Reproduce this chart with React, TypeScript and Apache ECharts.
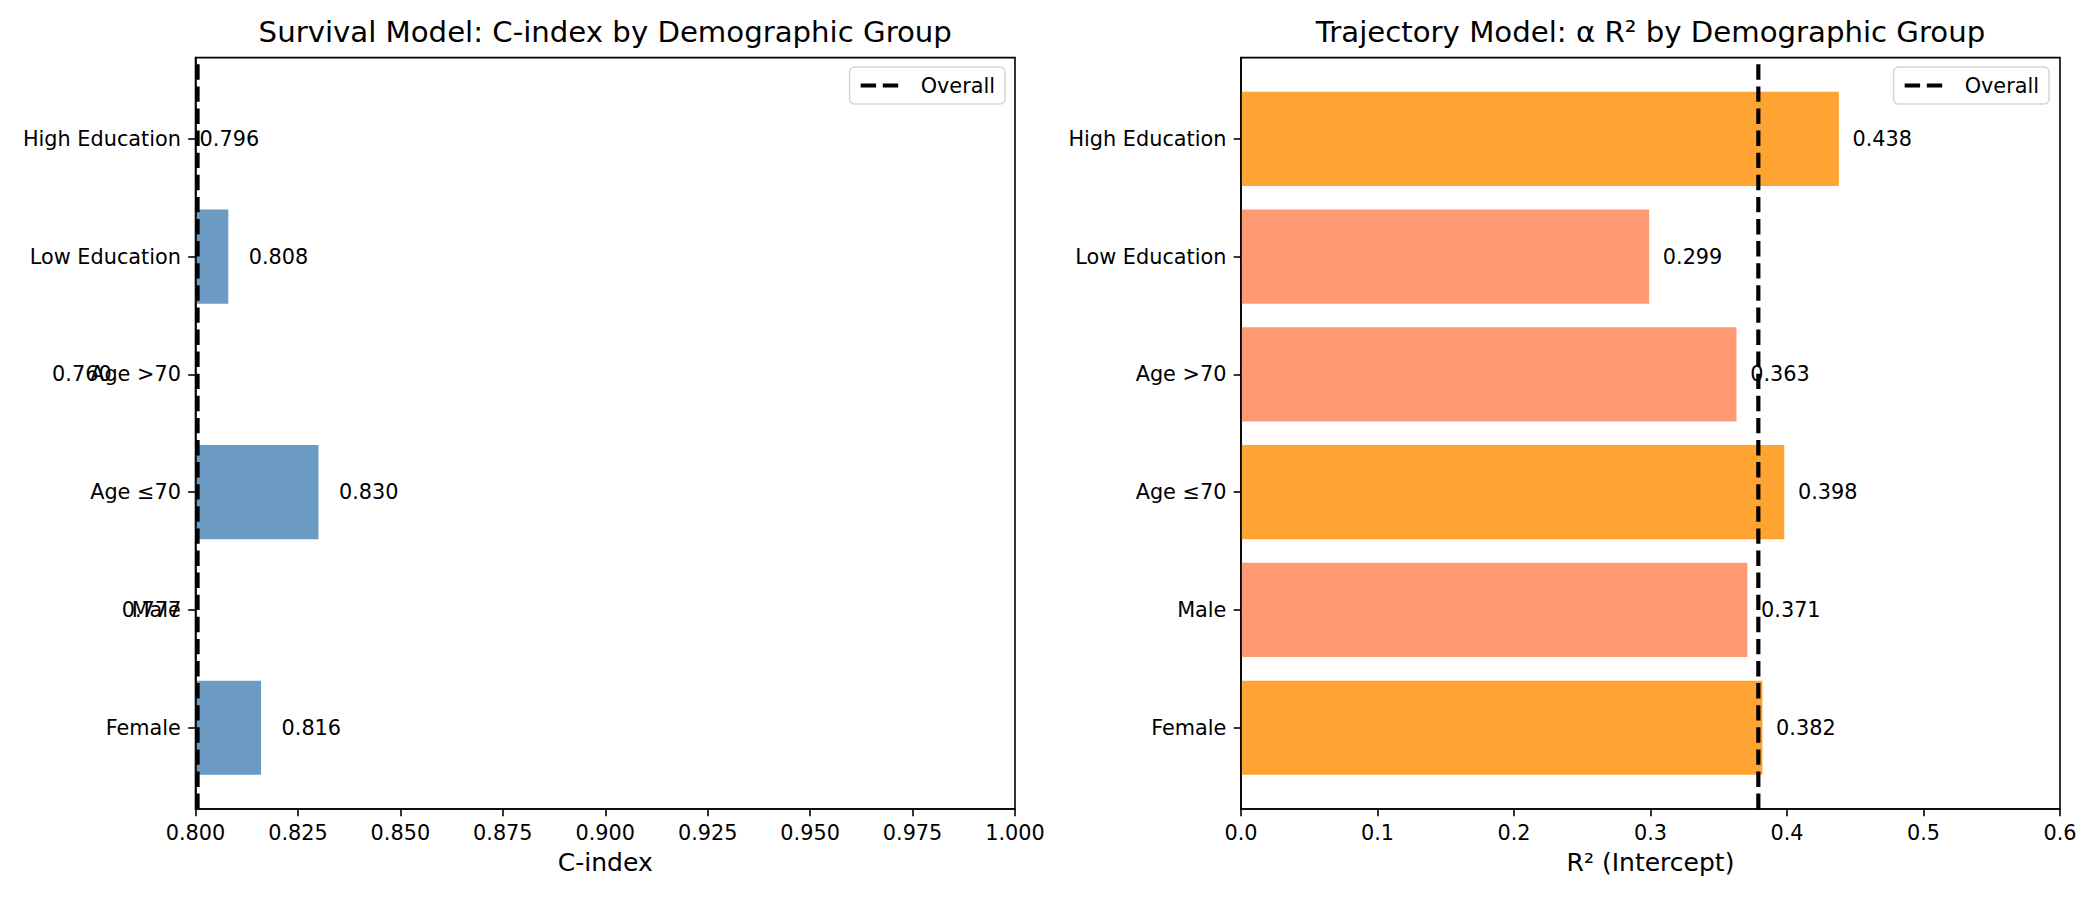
import React, { useEffect, useRef } from 'react';
import * as echarts from 'echarts';

const categories = ['Female', 'Male', 'Age ≤70', 'Age >70', 'Low Education', 'High Education'];
const cIndexValues = [0.816, 0.777, 0.830, 0.760, 0.808, 0.796];
const r2Values = [0.382, 0.371, 0.398, 0.363, 0.299, 0.438];
const overallCIndex = 0.8005;
const overallR2 = 0.379;
const categoryTicks = [0, 1, 2, 3, 4, 5];
const yMin = -0.69;
const yMax = 5.69;

const FONT = 'DejaVu Sans';
const BLUE = '#6b9bc3';
const DARKORANGE = '#ffa333';
const CORAL = '#ff9973';

function makeRenderItem(overall: number, hi: string, lo: string, offset: number) {
  return (params: any, api: any) => {
    const i = api.value(0);
    const v = api.value(1);
    const start = api.coord([0, i]);
    const end = api.coord([v, i]);
    const h = api.size([0, 0.8])[1];
    const cs = params.coordSys;
    const rect = echarts.graphic.clipRectByRect(
      { x: start[0], y: start[1] - h / 2, width: end[0] - start[0], height: h },
      { x: cs.x, y: cs.y, width: cs.width, height: cs.height }
    );
    const children: any[] = [];
    if (rect) {
      children.push({ type: 'rect', shape: rect, style: { fill: v >= overall ? hi : lo } });
    }
    const lp = api.coord([v + offset, i]);
    children.push({
      type: 'text',
      x: lp[0],
      y: lp[1],
      style: {
        text: v.toFixed(3),
        fill: '#000',
        fontSize: 20.8,
        fontFamily: FONT,
        align: 'left',
        verticalAlign: 'middle',
      },
    });
    return { type: 'group', children };
  };
}

const tickStyle = { color: '#000', width: 1.6 };

function xAxisCfg(gridIndex: number, min: number, max: number, interval: number, name: string, digits: number) {
  return {
    gridIndex,
    type: 'value',
    min,
    max,
    interval,
    name,
    nameLocation: 'middle',
    nameGap: 41,
    nameTextStyle: { fontSize: 25, color: '#000', fontFamily: FONT },
    z: 5,
    axisLine: { show: true, onZero: false, lineStyle: tickStyle },
    axisTick: { show: true, length: 7.3, lineStyle: tickStyle },
    axisLabel: {
      margin: 13,
      fontSize: 20.8,
      color: '#000',
      fontFamily: FONT,
      formatter: (v: number) => v.toFixed(digits),
    },
    splitLine: { show: false },
  };
}

function yAxisCfg(gridIndex: number) {
  return {
    gridIndex,
    type: 'value',
    min: yMin,
    max: yMax,
    z: 5,
    axisLine: { show: true, onZero: false, lineStyle: tickStyle },
    axisTick: { show: true, length: 7.3, customValues: categoryTicks, lineStyle: tickStyle },
    axisLabel: {
      customValues: categoryTicks,
      margin: 14.6,
      fontSize: 20.8,
      color: '#000',
      fontFamily: FONT,
      formatter: (v: number) => categories[Math.round(v)],
    },
    splitLine: { show: false },
  };
}

function legendCfg(right: number) {
  return {
    data: ['Overall'],
    right,
    top: 67,
    orient: 'horizontal',
    selectedMode: false,
    padding: [8, 10, 8, 9],
    itemWidth: 39,
    itemHeight: 14,
    borderColor: '#d6d6d6',
    borderWidth: 1.5,
    borderRadius: 5,
    backgroundColor: '#fff',
    textStyle: { fontSize: 20.8, color: '#000', fontFamily: FONT, padding: [0, 0, 0, 16] },
    lineStyle: { color: '#000', width: 4.2, type: [15.4, 6.7] },
    itemStyle: { opacity: 0 },
  };
}

export default function App() {
  const ref = useRef<HTMLDivElement>(null);
  useEffect(() => {
    document.body.style.margin = '0';
    if (!ref.current) return;
    const chart = echarts.init(ref.current, undefined, { renderer: 'svg' });
    const titleStyle = { fontSize: 29.2, fontWeight: 'normal', color: '#000', fontFamily: FONT };
    const option: any = {
      animation: false,
      backgroundColor: '#fff',
      title: [
        {
          text: 'Survival Model: C-index by Demographic Group',
          left: 605.25,
          top: 17.9,
          textAlign: 'center',
          padding: 0,
          textStyle: titleStyle,
        },
        {
          text: 'Trajectory Model: α R² by Demographic Group',
          left: 1650.5,
          top: 17.9,
          textAlign: 'center',
          padding: 0,
          textStyle: titleStyle,
        },
      ],
      legend: [legendCfg(1095), legendCfg(51)],
      grid: [
        { left: 195.5, top: 57.6, width: 819.5, height: 751.4, show: true, borderColor: '#000', borderWidth: 1.6 },
        { left: 1241, top: 57.6, width: 819, height: 751.4, show: true, borderColor: '#000', borderWidth: 1.6 },
      ],
      xAxis: [
        xAxisCfg(0, 0.8, 1.0, 0.025, 'C-index', 3),
        xAxisCfg(1, 0, 0.6, 0.1, 'R² (Intercept)', 1),
      ],
      yAxis: [yAxisCfg(0), yAxisCfg(1)],
      series: [
        {
          type: 'custom',
          xAxisIndex: 0,
          yAxisIndex: 0,
          encode: { x: 1, y: 0 },
          data: categories.map((_, i) => [i, cIndexValues[i]]),
          renderItem: makeRenderItem(overallCIndex, BLUE, BLUE, 0.005),
          z: 1,
        },
        {
          type: 'custom',
          xAxisIndex: 1,
          yAxisIndex: 1,
          encode: { x: 1, y: 0 },
          data: categories.map((_, i) => [i, r2Values[i]]),
          renderItem: makeRenderItem(overallR2, DARKORANGE, CORAL, 0.01),
          z: 1,
        },
        {
          name: 'Overall',
          type: 'line',
          xAxisIndex: 0,
          yAxisIndex: 0,
          symbol: 'none',
          data: [[overallCIndex, yMin], [overallCIndex, yMax]],
          lineStyle: { color: '#000', width: 4.2, type: [15.4, 6.7] },
          z: 3,
        },
        {
          name: 'Overall',
          type: 'line',
          xAxisIndex: 1,
          yAxisIndex: 1,
          symbol: 'none',
          data: [[overallR2, yMin], [overallR2, yMax]],
          lineStyle: { color: '#000', width: 4.2, type: [15.4, 6.7] },
          z: 3,
        },
      ],
    };
    chart.setOption(option);
    return () => chart.dispose();
  }, []);
  return <div ref={ref} style={{ width: 2100, height: 900 }} />;
}
